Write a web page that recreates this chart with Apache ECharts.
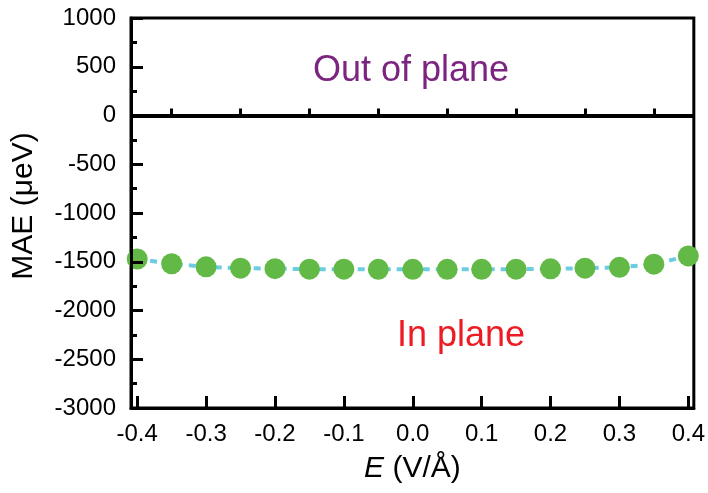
<!DOCTYPE html>
<html>
<head>
<meta charset="utf-8">
<script src="https://cdn.jsdelivr.net/npm/echarts@6/dist/echarts.min.js"></script>
<style>
	html, body { margin: 0; padding: 0; background: #fff; }
	#mychart { width: 708px; height: 493px; }
</style>
</head>
<body>
<div id="mychart"></div>
<script>
	// field E (V/Å) and MAE (μeV)
	const fieldValues = [-0.4, -0.35, -0.3, -0.25, -0.2, -0.15, -0.1, -0.05, 0.0, 0.05, 0.1, 0.15, 0.2, 0.25, 0.3, 0.35, 0.4]
	const maeValues = [-1472, -1521, -1552, -1566, -1571, -1576, -1576, -1578, -1578, -1578, -1578, -1576, -1573, -1566, -1557, -1525, -1440]
	const xMajorTicks = [-0.4, -0.3, -0.2, -0.1, 0.0, 0.1, 0.2, 0.3, 0.4]
	const xMinorTicks = [-0.35, -0.25, -0.15, -0.05, 0.05, 0.15, 0.25, 0.35]
	const yTicks = [-3000, -2500, -2000, -1500, -1000, -500, 0, 500, 1000]

	const font = "'Liberation Sans', Arial, sans-serif"
	const chart = echarts.init(document.getElementById('mychart'))

	const points = []
	for (let i = 0; i < fieldValues.length; i++) {
		points.push([fieldValues[i], maeValues[i]])
	}

	var option = {
		animation: false,
		grid: {
			left: 131,
			right: 14,
			top: 18,
			bottom: 85,
			show: true,
			borderColor: '#000',
			borderWidth: 3,
			backgroundColor: 'transparent'
		},
		xAxis: [
			{
				type: 'value',
				min: -0.409,
				max: 0.408,
				position: 'bottom',
				z: 5,
				name: '{i|E} (V/Å)',
				nameLocation: 'middle',
				nameGap: 46,
				nameTextStyle: {
					fontFamily: font,
					fontSize: 30,
					color: '#000',
					rich: {
						i: { fontFamily: font, fontSize: 30, fontStyle: 'italic', color: '#000' }
					}
				},
				axisLine: { show: true, onZero: false, lineStyle: { color: '#000', width: 3 } },
				axisTick: {
					show: true,
					inside: true,
					length: 12,
					customValues: xMajorTicks,
					lineStyle: { color: '#000', width: 3 }
				},
				axisLabel: {
					show: true,
					customValues: xMajorTicks,
					margin: 14,
					fontFamily: font,
					fontSize: 24,
					color: '#000',
					formatter: function (v) { return v.toFixed(1) }
				},
				splitLine: { show: false }
			},
			{
				type: 'value',
				min: -0.409,
				max: 0.408,
				position: 'bottom',
				z: 5,
				axisLine: { show: false },
				axisTick: {
					show: true,
					inside: true,
					length: 7,
					customValues: xMinorTicks,
					lineStyle: { color: '#000', width: 3 }
				},
				axisLabel: { show: false },
				splitLine: { show: false }
			}
		],
		yAxis: {
			type: 'value',
			min: yTicks[0],
			max: yTicks[yTicks.length - 1],
			interval: 500,
			z: 5,
			name: 'MAE (μeV)',
			nameLocation: 'middle',
			nameGap: 92,
			nameTextStyle: { fontFamily: font, fontSize: 30, color: '#000', padding: [0, 0, 0, 14] },
			axisLine: { show: true, onZero: false, lineStyle: { color: '#000', width: 3 } },
			axisTick: { show: true, inside: true, length: 12, lineStyle: { color: '#000', width: 3 } },
			minorTick: { show: true, splitNumber: 2, length: 6, lineStyle: { color: '#000', width: 3 } },
			axisLabel: {
				margin: 15,
				fontFamily: font,
				fontSize: 24,
				color: '#000',
				formatter: function (v) { return String(v) }
			},
			splitLine: { show: false }
		},
		graphic: [
			{
				type: 'text',
				x: 411,
				y: 71,
				style: {
					text: 'Out of plane',
					fontFamily: font,
					fontSize: 36,
					fill: '#7b2581',
					align: 'center',
					verticalAlign: 'middle'
				}
			},
			{
				type: 'text',
				x: 461,
				y: 336,
				style: {
					text: 'In plane',
					fontFamily: font,
					fontSize: 36,
					fill: '#ed1c24',
					align: 'center',
					verticalAlign: 'middle'
				}
			}
		],
		series: [
			{
				type: 'line',
				data: points,
				xAxisIndex: 0,
				symbol: 'circle',
				symbolSize: 21,
				clip: false,
				itemStyle: { color: '#63b946' },
				lineStyle: { color: '#6ccde2', width: 4, type: [7, 6] },
				markLine: {
					silent: true,
					symbol: 'none',
					label: { show: false },
					lineStyle: { color: '#000', width: 4, type: 'solid' },
					data: [{ yAxis: 0 }]
				}
			}
		]
	}
	chart.setOption(option)
</script>
</body>
</html>
